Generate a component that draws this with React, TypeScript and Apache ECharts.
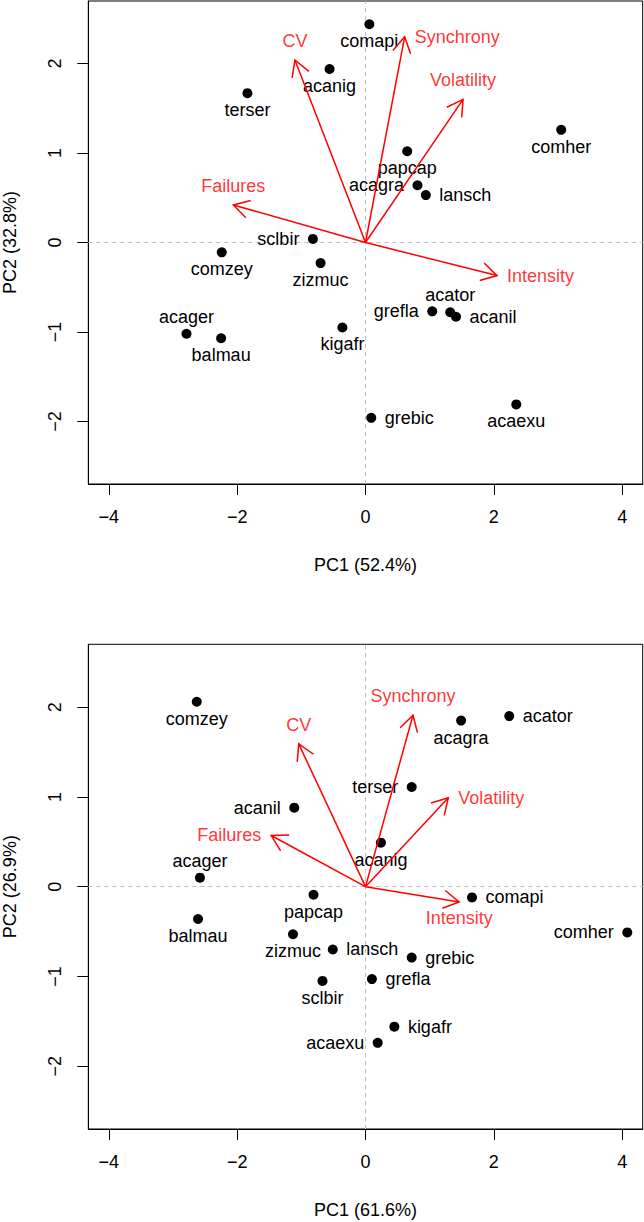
import React, { useEffect, useRef } from "react";
import * as echarts from "echarts";

// PCA biplots: species scores (black dots) and variable loadings (red arrows)

const xTicks = [-4, -2, 0, 2, 4];
const yTicks = [-2, -1, 0, 1, 2];

// Upper panel
const speciesTop = ["comapi", "acanig", "terser", "comher", "papcap", "acagra", "lansch", "sclbir", "comzey", "zizmuc", "grefla", "acator", "acanil", "acager", "balmau", "kigafr", "grebic", "acaexu"];
const pc1Top = [0.06, -0.56, -1.84, 3.05, 0.65, 0.81, 0.94, -0.82, -2.24, -0.7, 1.04, 1.32, 1.41, -2.79, -2.25, -0.36, 0.09, 2.35];
const pc2Top = [2.44, 1.94, 1.67, 1.26, 1.02, 0.64, 0.53, 0.04, -0.11, -0.23, -0.77, -0.78, -0.83, -1.02, -1.07, -0.95, -1.96, -1.81];
const sideTop = ["bottom", "bottom", "bottom", "bottom", "bottom", "left", "right", "left", "bottom", "bottom", "left", "top", "right", "top", "bottom", "bottom", "right", "bottom"];

const variables = ["Failures", "CV", "Synchrony", "Volatility", "Intensity"];
const loadXTop = [-2.06, -1.1, 0.61, 1.52, 2.05];
const loadYTop = [0.42, 2.04, 2.3, 1.6, -0.37];
const varSideTop = ["top", "top", "right", "top", "right"];

// Lower panel
const speciesBottom = ["comzey", "acator", "acagra", "terser", "acanil", "acanig", "acager", "comapi", "papcap", "balmau", "zizmuc", "lansch", "grebic", "grefla", "sclbir", "kigafr", "acaexu", "comher"];
const pc1Bottom = [-2.63, 2.24, 1.49, 0.72, -1.11, 0.24, -2.58, 1.66, -0.81, -2.61, -1.13, -0.51, 0.72, 0.1, -0.67, 0.45, 0.19, 4.08];
const pc2Bottom = [2.06, 1.9, 1.85, 1.11, 0.88, 0.49, 0.1, -0.12, -0.09, -0.36, -0.53, -0.7, -0.79, -1.03, -1.05, -1.56, -1.74, -0.51];
const sideBottom = ["bottom", "right", "bottom", "left", "left", "bottom", "top", "right", "bottom", "bottom", "bottom", "right", "right", "right", "bottom", "right", "left", "left"];

const loadXBottom = [-1.47, -1.04, 0.74, 1.29, 1.46];
const loadYBottom = [0.57, 1.59, 1.91, 0.99, -0.17];
const varSideBottom = ["left", "top", "top", "right", "bottom"];

const xLabelTop = "PC1 (52.4%)";
const yLabelTop = "PC2 (32.8%)";
const xLabelBottom = "PC1 (61.6%)";
const yLabelBottom = "PC2 (26.9%)";

const FONT = "Liberation Sans, Arial, Helvetica, sans-serif";
const FS = 18;
const RED = "#ff0000";

const minus = (v: number) => String(v).replace("-", "\u2212");

function pointData(names: string[], xs: number[], ys: number[], sides: string[]) {
  return names.map((n, i) => ({
    name: n,
    value: [xs[i], ys[i]],
    label: {
      position: sides[i],
      distance: sides[i] === "left" || sides[i] === "right" ? 8.5 : 3,
    },
  }));
}

function tipData(names: string[], xs: number[], ys: number[], sides: string[]) {
  return names.map((n, i) => ({
    name: n,
    value: [xs[i], ys[i]],
    label: { position: sides[i], distance: sides[i] === "bottom" ? 7 : 10 },
  }));
}

function arrowRender(params: any, api: any) {
  const o = api.coord([0, 0]);
  const t = api.coord([api.value(0), api.value(1)]);
  const ang = Math.atan2(t[1] - o[1], t[0] - o[0]);
  const len = 18;
  const spread = Math.PI / 6;
  const a1 = [t[0] - len * Math.cos(ang - spread), t[1] - len * Math.sin(ang - spread)];
  const a2 = [t[0] - len * Math.cos(ang + spread), t[1] - len * Math.sin(ang + spread)];
  const style = { stroke: RED, lineWidth: 1.5, fill: null };
  return {
    type: "group",
    children: [
      { type: "line", shape: { x1: o[0], y1: o[1], x2: t[0], y2: t[1] }, style },
      { type: "polyline", shape: { points: [a1, t, a2] }, style },
    ],
  };
}

function axisPair(idx: number, xName: string, yName: string) {
  const common = {
    type: "value",
    gridIndex: idx,
    splitLine: { show: false },
    axisLine: { show: true, onZero: false, lineStyle: { color: "#000", width: 1 } },
    axisTick: { show: true, length: 11, inside: false, lineStyle: { color: "#000", width: 1 } },
    nameLocation: "middle",
    nameTextStyle: { color: "#000", fontFamily: FONT, fontSize: FS },
  };
  return {
    x: {
      ...common,
      min: -4.32,
      max: 4.32,
      name: xName,
      nameGap: 72,
      axisTick: { ...common.axisTick, customValues: xTicks },
      axisLabel: { customValues: xTicks, formatter: minus, color: "#000", fontFamily: FONT, fontSize: FS, margin: 24 },
    },
    y: {
      ...common,
      min: -2.7,
      max: 2.7,
      name: yName,
      nameGap: 69,
      axisTick: { ...common.axisTick, customValues: yTicks },
      axisLabel: { customValues: yTicks, formatter: minus, rotate: 90, color: "#000", fontFamily: FONT, fontSize: FS, margin: 24 },
    },
  };
}

function panelSeries(idx: number, pts: any[], tips: any[]) {
  return [
    {
      type: "scatter",
      xAxisIndex: idx,
      yAxisIndex: idx,
      data: pts,
      symbol: "circle",
      symbolSize: 10,
      itemStyle: { color: "#000", opacity: 1 },
      label: { show: true, formatter: "{b}", color: "#000", fontFamily: FONT, fontSize: FS },
      markLine: {
        silent: true,
        symbol: ["none", "none"],
        label: { show: false },
        lineStyle: { color: "#bebebe", type: [4, 4], width: 1 },
        data: [{ xAxis: 0 }, { yAxis: 0 }],
        z: 1,
      },
      z: 3,
    },
    {
      type: "custom",
      xAxisIndex: idx,
      yAxisIndex: idx,
      renderItem: arrowRender,
      data: tips.map((d) => d.value),
      z: 4,
    },
    {
      type: "scatter",
      xAxisIndex: idx,
      yAxisIndex: idx,
      data: tips,
      symbolSize: 0,
      itemStyle: { color: "rgba(0,0,0,0)" },
      label: { show: true, formatter: "{b}", color: RED, fontFamily: FONT, fontSize: FS },
      z: 5,
    },
  ];
}

export default function App() {
  const ref = useRef<HTMLDivElement>(null);

  useEffect(() => {
    if (!ref.current) return;
    const chart = echarts.init(ref.current, null, { renderer: "svg" });
    const a0 = axisPair(0, xLabelTop, yLabelTop);
    const a1 = axisPair(1, xLabelBottom, yLabelBottom);
    const gridBase = {
      left: 88.3,
      width: 554.4,
      show: true,
      borderColor: "#000",
      borderWidth: 1,
      backgroundColor: "transparent",
      containLabel: false,
      outerBoundsMode: "none",
    };
    chart.setOption({
      animation: false,
      backgroundColor: "#fff",
      textStyle: { fontFamily: FONT },
      grid: [
        { ...gridBase, top: 1, height: 483 },
        { ...gridBase, top: 644.3, height: 484.7 },
      ],
      xAxis: [a0.x, a1.x],
      yAxis: [a0.y, a1.y],
      series: [
        ...panelSeries(0, pointData(speciesTop, pc1Top, pc2Top, sideTop), tipData(variables, loadXTop, loadYTop, varSideTop)),
        ...panelSeries(1, pointData(speciesBottom, pc1Bottom, pc2Bottom, sideBottom), tipData(variables, loadXBottom, loadYBottom, varSideBottom)),
      ],
    });
    return () => chart.dispose();
  }, []);

  return (
    <div
      ref={ref}
      style={{ position: "absolute", left: 0, top: 0, width: 644, height: 1222, background: "#fff" }}
    />
  );
}
